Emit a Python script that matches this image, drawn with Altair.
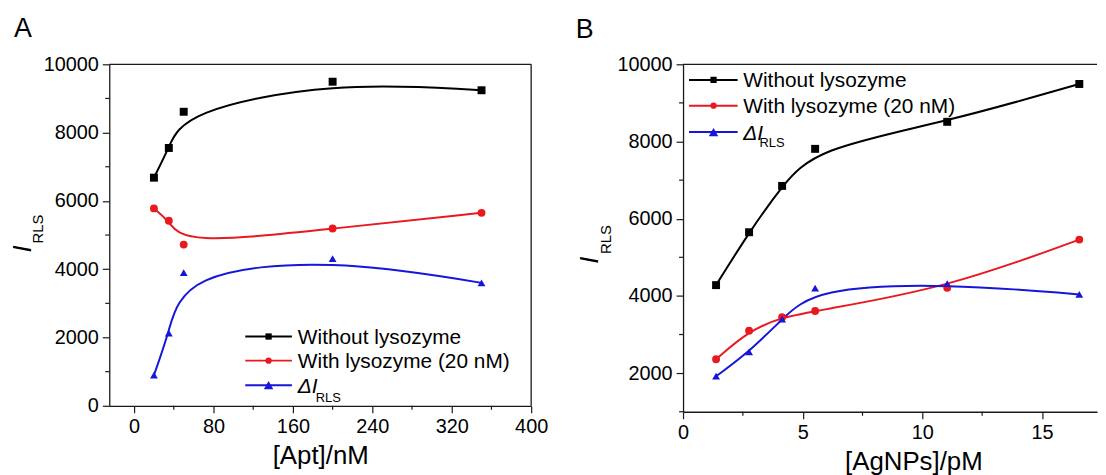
import altair as alt
import pandas as pd

FONT = "Liberation Sans"
AX = "#1a1a1a"

# ---------------- data: panel A ----------------
apt_x = [20, 35, 50, 200, 350]
a_without = [6680, 7550, 8610, 9490, 9240]
a_with = [5780, 5420, 4720, 5190, 5650]
a_delta = [900, 2130, 3900, 4310, 3600]

# ---------------- data: panel B ----------------
ag_x = [1.38, 2.76, 4.14, 5.52, 11.04, 16.56]
b_without = [4280, 5650, 6850, 7810, 8510, 9490]
b_with = [2360, 3100, 3450, 3610, 4210, 5460]
b_delta = [1920, 2550, 3400, 4200, 4320, 4040]

series_names = ["Without lysozyme", "With lysozyme (20 nM)", "dI_RLS"]
legend_labels = ["Without lysozyme", "With lysozyme (20 nM)", "ΔI"]
series_colors = ["#000000", "#e8191f", "#1616d8"]
series_shapes = ["square", "circle", "triangle-up"]
series_sizes = [64, 62, 150]

a_xticks_major = [0, 80, 160, 240, 320, 400]
a_xticks_minor = [40, 120, 200, 280, 360]
a_yticks_major = [0, 2000, 4000, 6000, 8000, 10000]
a_yticks_minor = [1000, 3000, 5000, 7000, 9000]
b_xticks_major = [0, 5, 10, 15]
b_xticks_minor = [2.5, 7.5, 12.5]
b_yticks_major = [2000, 4000, 6000, 8000, 10000]
b_yticks_minor = [1000, 3000, 5000, 7000, 9000]

one = pd.DataFrame({"k": [0]})


def txt(s, x, y, size, style="normal", angle=0, align="left"):
    return alt.Chart(one).mark_text(
        text=s, fontSize=size, fontStyle=style, angle=angle, align=align,
        baseline="alphabetic", font=FONT, color="black"
    ).encode(x=alt.value(x), y=alt.value(y))


def panel(xs, ys3, xdom, ydom, W, H, xmaj, xmin_, ymaj, ymin_, xtitle, xtitle_x,
          letter, letter_xy, ititle, legend, right_border):
    rows = []
    for name, ys in zip(series_names, ys3):
        for x, y in zip(xs, ys):
            rows.append({"x": x, "y": y, "series": name})
    df = pd.DataFrame(rows)
    xsc = alt.Scale(domain=xdom, nice=False, zero=False)
    ysc = alt.Scale(domain=ydom, nice=False, zero=False)
    xax_kw = dict(values=xmaj, title=xtitle, grid=False, tickSize=7, tickWidth=1.2,
                  tickColor=AX, domainColor=AX, domainWidth=1.3, labelFontSize=20,
                  labelPadding=4, labelColor="black", labelFont=FONT, titleFont=FONT,
                  titleFontSize=26, titleFontWeight="normal", titleColor="black",
                  titlePadding=6, labelFlush=False, labelOverlap=False, format="d")
    if xtitle_x is not None:
        xax_kw["titleX"] = xtitle_x
    xax = alt.Axis(**xax_kw)
    yax = alt.Axis(values=ymaj, title="", grid=False, tickSize=7, tickWidth=1.2,
                   tickColor=AX, domainColor=AX, domainWidth=1.3, labelFontSize=20,
                   labelPadding=4, labelColor="black", labelFont=FONT,
                   labelFlush=False, labelOverlap=False, format="d")
    color = alt.Color("series:N", scale=alt.Scale(domain=series_names, range=series_colors), legend=None)
    base = alt.Chart(df).encode(
        x=alt.X("x:Q", scale=xsc, axis=xax),
        y=alt.Y("y:Q", scale=ysc, axis=yax),
        color=color,
    )
    lines = base.mark_line(interpolate="basis", strokeWidth=2)
    pts = base.mark_point(filled=True, opacity=1).encode(
        shape=alt.Shape("series:N", scale=alt.Scale(domain=series_names, range=series_shapes), legend=None),
        size=alt.Size("series:N", scale=alt.Scale(domain=series_names, range=series_sizes), legend=None),
    )
    layers = [lines, pts]
    # minor ticks
    layers.append(alt.Chart(pd.DataFrame({"x": xmin_})).mark_rule(color=AX, strokeWidth=1.2).encode(
        x=alt.X("x:Q", scale=xsc, axis=xax), y=alt.value(H), y2=alt.value(H + 4)))
    layers.append(alt.Chart(pd.DataFrame({"y": ymin_})).mark_rule(color=AX, strokeWidth=1.2).encode(
        y=alt.Y("y:Q", scale=ysc, axis=yax), x=alt.value(0), x2=alt.value(-4)))
    # frame
    layers.append(alt.Chart(one).mark_rule(color=AX, strokeWidth=1.3).encode(
        x=alt.value(0), x2=alt.value(W), y=alt.value(0)))
    if right_border:
        layers.append(alt.Chart(one).mark_rule(color=AX, strokeWidth=1.3).encode(
            x=alt.value(W), y=alt.value(0), y2=alt.value(H)))
    # legend
    lx1, lx2, mx, tx, rys, subx, suby = legend
    for i in range(3):
        c = series_colors[i]
        layers.append(alt.Chart(one).mark_rule(color=c, strokeWidth=2).encode(
            x=alt.value(lx1), x2=alt.value(lx2), y=alt.value(rys[i])))
        layers.append(alt.Chart(one).mark_point(shape=series_shapes[i], filled=True, opacity=1,
                                                size=[40, 40, 90][i], color=c).encode(
            x=alt.value(mx), y=alt.value(rys[i])))
        style = "italic" if i == 2 else "normal"
        layers.append(txt(legend_labels[i], tx, rys[i] + 7.5, 21, style))
    layers.append(txt("RLS", subx, suby, 13))
    # panel letter
    layers.append(txt(letter, letter_xy[0], letter_xy[1], 27))
    # y title  I_RLS
    (ix, iy), (rx, ry) = ititle
    layers.append(txt("I", ix, iy, 26, "italic", angle=270))
    layers.append(txt("RLS", rx, ry, 15, angle=270))
    return alt.layer(*layers).properties(width=W, height=H)


pA = panel(apt_x, [a_without, a_with, a_delta], [-25, 400], [0, 10000], 425, 344,
           a_xticks_major, a_xticks_minor, a_yticks_major, a_yticks_minor,
           "[Apt]/nM", None, "A", (-96, -27.5),
           ((-79, 189.5), (-67, 180.5)),
           (137, 184, 160.5, 190, [274.2, 298.5, 323.2], 208, 340),
           True)

pB = panel(ag_x, [b_without, b_with, b_delta], [0, 17.3], [1000, 10000], 417, 350,
           b_xticks_major, b_xticks_minor, b_yticks_major, b_yticks_minor,
           "[AgNPs]/pM", 232, "B", (-108, -26),
           ((-86, 201), (-73, 191)),
           (6, 55, 30.7, 60.7, [15.7, 41.7, 68.3], 77, 83),
           False)

chart = alt.hconcat(pA, pB, spacing=28).properties(
    padding={"left": 2, "top": 5, "right": 0, "bottom": 0}
).configure(font=FONT).configure_view(strokeWidth=0)

chart.save("out.html", embed_options={"renderer": "svg", "actions": False})
